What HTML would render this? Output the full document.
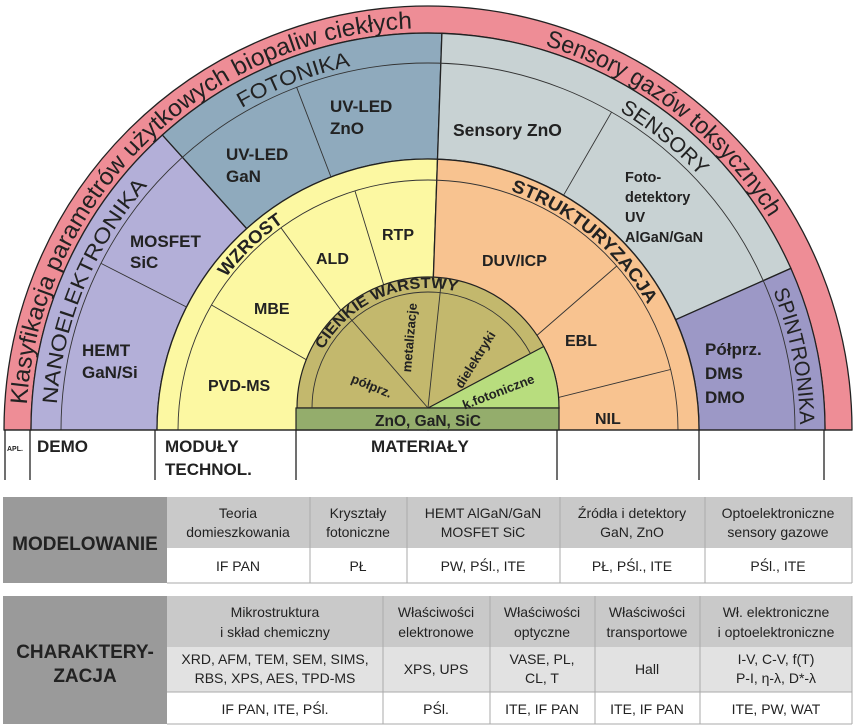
<!DOCTYPE html>
<html><head><meta charset="utf-8"><style>
body{margin:0;background:#fff;width:857px;height:727px;overflow:hidden}
svg{position:absolute;left:0;top:0}
.b{font-family:"Liberation Sans",sans-serif;font-weight:bold;fill:#222}
.n{font-family:"Liberation Sans",sans-serif;fill:#222}
.t{font-family:"Liberation Sans Narrow","Liberation Sans",sans-serif;fill:#222;font-size:14px}
</style></head><body>
<svg width="857" height="727" viewBox="0 0 857 727">
<defs>
<path id="pk" d="M26 430 A402 402 0 0 1 830 430"/>
<path id="dm" d="M56 430 A372 372 0 0 1 800 430"/>
<path id="yr" d="M175 430 A253 253 0 0 1 681 430"/>
<path id="ol" d="M308 408 A120 120 0 0 1 548 408"/>
</defs>
<g stroke="#222" stroke-width="1.3">
<path d="M4 430 A424 424 0 0 1 852 430 L825 430 A397 397 0 0 0 31 430 Z" fill="#ee8d96"/>
<path d="M31 430 A397 397 0 0 1 162.4 135 L246.7 228.6 A271 271 0 0 0 157 430 Z" fill="#b3afd8"/>
<path d="M162.4 135 A397 397 0 0 1 441.9 33.3 L437.5 159.2 A271 271 0 0 0 246.7 228.6 Z" fill="#8faabd"/>
<path d="M441.9 33.3 A397 397 0 0 1 790.9 268.4 L675.7 319.7 A271 271 0 0 0 437.5 159.2 Z" fill="#c8d2d3"/>
<path d="M790.9 268.4 A397 397 0 0 1 825 430 L699 430 A271 271 0 0 0 675.7 319.7 Z" fill="#9c98c6"/>
<path d="M157 430 A271 271 0 0 1 437.5 159.2 L428 430 Z" fill="#fcf8a2"/>
<path d="M437.5 159.2 A271 271 0 0 1 699 430 L428 430 Z" fill="#f8c390"/>
</g>
<g stroke="#333" stroke-width="0.9" fill="none">
<path d="M61 430 A367 367 0 0 1 795 430"/>
<path d="M178 430 A250 250 0 0 1 678 430"/>
<line x1="186.5" y1="307" x2="101" y2="263.4"/>
<line x1="331" y1="177" x2="296.6" y2="87.2"/>
<line x1="563.5" y1="195.3" x2="611.5" y2="112.2"/>
<line x1="428" y1="430" x2="211.5" y2="305"/>
<line x1="428" y1="430" x2="281" y2="227.8"/>
<line x1="428" y1="430" x2="355" y2="191"/>
<line x1="428" y1="430" x2="616.8" y2="266"/>
<line x1="428" y1="430" x2="670.5" y2="369.5"/>
</g>
<g stroke="#222" stroke-width="1.2">
<path d="M297 408 A131 131 0 0 1 559 408 Z" fill="#c3b86d"/>
<path d="M428 408 L559 408 A131 131 0 0 0 543.7 346.5 Z" fill="#b8dd7e"/>
<rect x="296" y="408" width="263" height="22" fill="#94ad6c"/>
</g>
<g stroke="#333" stroke-width="0.9" fill="none">
<path d="M312 408 A116 116 0 0 1 530.4 353.5"/>
<line x1="428" y1="408" x2="342" y2="309"/>
<line x1="428" y1="408" x2="441.7" y2="277.7"/>
</g>
<!-- curved labels -->
<text class="n" font-size="24"><textPath href="#pk" startOffset="2%" textLength="590" lengthAdjust="spacingAndGlyphs">Klasyfikacja parametrów użytkowych biopaliw ciekłych</textPath></text>
<text class="n" font-size="24"><textPath href="#pk" startOffset="59.4%" textLength="289" lengthAdjust="spacingAndGlyphs">Sensory gazów toksycznych</textPath></text>
<text class="n" font-size="21"><textPath href="#dm" startOffset="2.2%" textLength="241" lengthAdjust="spacingAndGlyphs">NANOELEKTRONIKA</textPath></text>
<text class="n" font-size="21"><textPath href="#dm" startOffset="33.3%" textLength="117" lengthAdjust="spacingAndGlyphs">FOTONIKA</textPath></text>
<text class="n" font-size="21"><textPath href="#dm" startOffset="67.2%" textLength="104" lengthAdjust="spacingAndGlyphs">SENSORY</textPath></text>
<text class="n" font-size="21"><textPath href="#dm" startOffset="87.8%" textLength="137" lengthAdjust="spacingAndGlyphs">SPINTRONIKA</textPath></text>
<text class="b" font-size="18"><textPath href="#yr" startOffset="20.6%" textLength="80" lengthAdjust="spacingAndGlyphs">WZROST</textPath></text>
<text class="b" font-size="18"><textPath href="#yr" startOffset="60.6%" textLength="182" lengthAdjust="spacingAndGlyphs">STRUKTURYZACJA</textPath></text>
<text class="b" font-size="15"><textPath href="#ol" startOffset="16.1%" textLength="157" lengthAdjust="spacingAndGlyphs">CIENKIE WARSTWY</textPath></text>
<!-- straight labels -->
<g class="b" font-size="17">
<text x="130" y="247">MOSFET</text><text x="130" y="268">SiC</text>
<text x="82" y="356">HEMT</text><text x="82" y="378">GaN/Si</text>
<text x="226" y="160">UV-LED</text><text x="226" y="182">GaN</text>
<text x="330" y="112">UV-LED</text><text x="330" y="134">ZnO</text>
<text x="382" y="240" font-size="16">RTP</text>
<text x="316" y="264" font-size="16">ALD</text>
<text x="254" y="314" font-size="16">MBE</text>
<text x="208" y="391" font-size="16">PVD-MS</text>
<text x="482" y="266" font-size="16">DUV/ICP</text>
<text x="565" y="346" font-size="16">EBL</text>
<text x="595" y="424" font-size="16">NIL</text>
<text x="705" y="355">Półprz.</text><text x="705" y="379">DMS</text><text x="705" y="403">DMO</text>
<text x="453" y="136" font-size="17.5">Sensory ZnO</text>
</g>
<g class="b" font-size="14.5">
<text x="625" y="182">Foto-</text><text x="625" y="202">detektory</text><text x="625" y="222">UV</text><text x="625" y="242">AlGaN/GaN</text>
</g>
<text class="b" font-size="15.5" x="428" y="426" text-anchor="middle">ZnO, GaN, SiC</text>
<g class="b" font-size="13">
<text transform="translate(370,390) rotate(22)" text-anchor="middle">półprz.</text>
<text transform="translate(414,338) rotate(-85)" text-anchor="middle">metalizacje</text>
<text transform="translate(479,362) rotate(-58)" text-anchor="middle">dielektryki</text>
<text transform="translate(500,396) rotate(-21)" text-anchor="middle">k.fotoniczne</text>
</g>
<!-- bottom labels -->
<g stroke="#222" stroke-width="1.3">
<line x1="4" y1="430" x2="852" y2="430"/>
<line x1="5" y1="430" x2="5" y2="480"/>
<line x1="30" y1="430" x2="30" y2="480"/>
<line x1="155" y1="430" x2="155" y2="480"/>
<line x1="296" y1="430" x2="296" y2="480"/>
<line x1="557" y1="430" x2="557" y2="480"/>
<line x1="699" y1="430" x2="699" y2="480"/>
<line x1="824" y1="430" x2="824" y2="480"/>
</g>
<text class="b" font-size="7" x="7" y="451">APL.</text>
<text class="b" font-size="17" x="37" y="452">DEMO</text>
<text class="b" font-size="17" x="165" y="452">MODUŁY</text>
<text class="b" font-size="17" x="165" y="475">TECHNOL.</text>
<text class="b" font-size="17" x="371" y="452">MATERIAŁY</text>
<!-- table 1 -->
<rect x="3" y="497" width="164" height="86" fill="#9a9a9a"/>
<rect x="167" y="497" width="685" height="51" fill="#c9c9c9"/>
<rect x="167" y="548" width="685" height="35" fill="#fff"/>
<g stroke="#aaa" stroke-width="1">
<line x1="310" y1="497" x2="310" y2="583"/><line x1="407" y1="497" x2="407" y2="583"/>
<line x1="560" y1="497" x2="560" y2="583"/><line x1="705" y1="497" x2="705" y2="583"/>
<line x1="167" y1="583" x2="852" y2="583"/><line x1="852" y1="497" x2="852" y2="583"/>
</g>
<text class="b" font-size="19" x="85" y="550" text-anchor="middle">MODELOWANIE</text>
<g class="t" text-anchor="middle">
<text x="238" y="518">Teoria</text><text x="238" y="537">domieszkowania</text>
<text x="358" y="518">Kryształy</text><text x="358" y="537">fotoniczne</text>
<text x="483" y="518">HEMT AlGaN/GaN</text><text x="483" y="537">MOSFET SiC</text>
<text x="632" y="518">Źródła i detektory</text><text x="632" y="537">GaN, ZnO</text>
<text x="778" y="518">Optoelektroniczne</text><text x="778" y="537">sensory gazowe</text>
<text x="238" y="571">IF PAN</text><text x="358" y="571">PŁ</text><text x="483" y="571">PW, PŚl., ITE</text>
<text x="632" y="571">PŁ, PŚl., ITE</text><text x="778" y="571">PŚl., ITE</text>
</g>
<!-- table 2 -->
<rect x="3" y="596" width="164" height="128" fill="#9a9a9a"/>
<rect x="167" y="596" width="685" height="51" fill="#c9c9c9"/>
<rect x="167" y="647" width="685" height="45" fill="#e2e2e2"/>
<rect x="167" y="692" width="685" height="32" fill="#fff"/>
<g stroke="#aaa" stroke-width="1">
<line x1="383" y1="596" x2="383" y2="724"/><line x1="490" y1="596" x2="490" y2="724"/>
<line x1="595" y1="596" x2="595" y2="724"/><line x1="700" y1="596" x2="700" y2="724"/>
<line x1="167" y1="692" x2="852" y2="692"/><line x1="167" y1="724" x2="852" y2="724"/><line x1="852" y1="596" x2="852" y2="724"/>
</g>
<text class="b" font-size="19" x="85" y="658" text-anchor="middle">CHARAKTERY-</text>
<text class="b" font-size="19" x="85" y="682" text-anchor="middle">ZACJA</text>
<g class="t" text-anchor="middle">
<text x="275" y="617">Mikrostruktura</text><text x="275" y="637">i skład chemiczny</text>
<text x="436" y="617">Właściwości</text><text x="436" y="637">elektronowe</text>
<text x="542" y="617">Właściwości</text><text x="542" y="637">optyczne</text>
<text x="647" y="617">Właściwości</text><text x="647" y="637">transportowe</text>
<text x="776" y="617">Wł. elektroniczne</text><text x="776" y="637">i optoelektroniczne</text>
<text x="275" y="664">XRD, AFM, TEM, SEM, SIMS,</text><text x="275" y="683">RBS, XPS, AES, TPD-MS</text>
<text x="436" y="674">XPS, UPS</text>
<text x="542" y="664">VASE, PL,</text><text x="542" y="683">CL, T</text>
<text x="647" y="674">Hall</text>
<text x="776" y="664">I-V, C-V, f(T)</text><text x="776" y="683">P-I, η-λ, D*-λ</text>
<text x="275" y="714">IF PAN, ITE, PŚl.</text><text x="436" y="714">PŚl.</text>
<text x="542" y="714">ITE, IF PAN</text><text x="647" y="714">ITE, IF PAN</text><text x="776" y="714">ITE, PW, WAT</text>
</g>
</svg>
</body></html>
